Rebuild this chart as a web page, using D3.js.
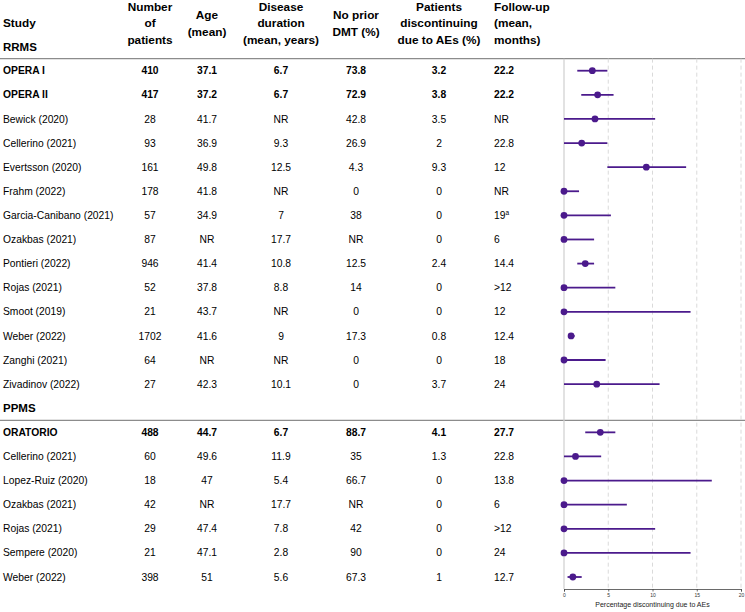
<!DOCTYPE html>
<html>
<head>
<meta charset="utf-8" />
<title>Discontinuation due to AEs</title>
<script src="https://d3js.org/d3.v7.min.js"></script>
<style>
  body { margin: 0; background: #fff; }
  svg { display: block; font-family: "Liberation Sans", Arial, sans-serif; }
</style>
</head>
<body>
<svg id="chart" width="745" height="612"></svg>
<script>
// groups and studies
const groups = ["RRMS", "PPMS"];
const studies = [
  "OPERA I", "OPERA II", "Bewick (2020)", "Cellerino (2021)", "Evertsson (2020)",
  "Frahm (2022)", "Garcia-Canibano (2021)", "Ozakbas (2021)", "Pontieri (2022)",
  "Rojas (2021)", "Smoot (2019)", "Weber (2022)", "Zanghi (2021)", "Zivadinov (2022)",
  "ORATORIO", "Cellerino (2021)", "Lopez-Ruiz (2020)", "Ozakbas (2021)",
  "Rojas (2021)", "Sempere (2020)", "Weber (2022)"
];
const studyGroup = [
  "RRMS", "RRMS", "RRMS", "RRMS", "RRMS", "RRMS", "RRMS", "RRMS", "RRMS",
  "RRMS", "RRMS", "RRMS", "RRMS", "RRMS",
  "PPMS", "PPMS", "PPMS", "PPMS", "PPMS", "PPMS", "PPMS"
];
const boldStudies = ["OPERA I", "OPERA II", "ORATORIO"];

// table columns
const nPatients = ["410", "417", "28", "93", "161", "178", "57", "87", "946", "52", "21", "1702", "64", "27",
  "488", "60", "18", "42", "29", "21", "398"];
const ageMean = ["37.1", "37.2", "41.7", "36.9", "49.8", "41.8", "34.9", "NR", "41.4", "37.8", "43.7", "41.6", "NR", "42.3",
  "44.7", "49.6", "47", "NR", "47.4", "47.1", "51"];
const diseaseDuration = ["6.7", "6.7", "NR", "9.3", "12.5", "NR", "7", "17.7", "10.8", "8.8", "NR", "9", "NR", "10.1",
  "6.7", "11.9", "5.4", "17.7", "7.8", "2.8", "5.6"];
const noPriorDMT = ["73.8", "72.9", "42.8", "26.9", "4.3", "0", "38", "NR", "12.5", "14", "0", "17.3", "0", "0",
  "88.7", "35", "66.7", "NR", "42", "90", "67.3"];
const followUp = ["22.2", "22.2", "NR", "22.8", "12", "NR", "19", "6", "14.4", ">12", "12", "12.4", "18", "24",
  "27.7", "22.8", "13.8", "6", ">12", "24", "12.7"];
const followUpNote = ["", "", "", "", "", "", "a", "", "", "", "", "", "", "",
  "", "", "", "", "", "", ""];

// forest plot: % discontinuing due to AEs with interval
const discontinuing = [3.2, 3.8, 3.5, 2, 9.3, 0, 0, 0, 2.4, 0, 0, 0.8, 0, 3.7,
  4.1, 1.3, 0, 0, 0, 0, 1];
const ciLower = [1.5, 1.95, 0, 0, 4.9, 0, 0, 0, 1.5, 0, 0, 0.5, 0, 0,
  2.4, 0, 0, 0, 0, 0, 0.4];
const ciUpper = [4.9, 5.6, 10.3, 4.9, 13.8, 1.7, 5.3, 3.4, 3.4, 5.8, 14.3, 1.2, 4.7, 10.8,
  5.8, 4.2, 16.7, 7.1, 10.3, 14.3, 2.0];
const xTicks = [0, 5, 10, 15, 20];

// build the row list: a header row for each group, then its studies
const rows = [];
groups.forEach(g => {
  rows.push({ type: "group", label: g });
  studies.forEach((s, i) => {
    if (studyGroup[i] !== g) return;
    rows.push({
      type: "study", label: s, bold: boldStudies.includes(s),
      n: nPatients[i], age: ageMean[i], dur: diseaseDuration[i], dmt: noPriorDMT[i],
      disc: discontinuing[i], fu: followUp[i], note: followUpNote[i],
      lo: ciLower[i], hi: ciUpper[i]
    });
  });
});
rows.forEach((r, i) => r.idx = i);

const svg = d3.select("#chart");
const y = d3.scaleLinear().domain([0, rows.length - 1]).range([46.6, 577]);
const x = d3.scaleLinear().domain([0, 20]).range([564, 741]);
const axisY = 589;

const cols = [
  { key: "n", x: 150, anchor: "middle", head: ["Number", "of", "patients"] },
  { key: "age", x: 207, anchor: "middle", head: ["Age", "(mean)"] },
  { key: "dur", x: 281, anchor: "middle", head: ["Disease", "duration", "(mean, years)"] },
  { key: "dmt", x: 356, anchor: "middle", head: ["No prior", "DMT (%)"] },
  { key: "disc", x: 439, anchor: "middle", head: ["Patients", "discontinuing", "due to AEs (%)"] },
  { key: "fu", x: 494, anchor: "start", head: ["Follow-up", "(mean,", "months)"] }
];

// header
const head = svg.append("g").attr("font-weight", "bold").attr("font-size", 11.8).attr("fill", "#000");
head.append("text").attr("x", 3).attr("y", 23).attr("dy", "0.35em").text("Study");
cols.forEach(c => {
  const lines = c.head;
  const top = lines.length === 3 ? 6.5 : 15;
  lines.forEach((l, j) => {
    head.append("text")
      .attr("x", c.x).attr("y", top + j * 16.5).attr("dy", "0.35em")
      .attr("text-anchor", c.anchor).text(l);
  });
});

// separator lines
const sepRows = rows.filter(r => r.type === "group").map(r => r.idx);
sepRows.forEach(i => {
  svg.append("line")
    .attr("x1", 0).attr("x2", 745)
    .attr("y1", (y(i) + y(i + 1)) / 2).attr("y2", (y(i) + y(i + 1)) / 2)
    .attr("stroke", "#8c8c8c").attr("stroke-width", 1.3);
});

// grid lines
const gridTop = (y(0) + y(1)) / 2;
svg.append("g").selectAll("line")
  .data(xTicks)
  .join("line")
  .attr("x1", d => x(d)).attr("x2", d => x(d))
  .attr("y1", gridTop).attr("y2", axisY)
  .attr("stroke", d => d === 0 ? "#cfcfcf" : "#d6d6d6")
  .attr("stroke-width", d => d === 0 ? 1.2 : 0.9)
  .attr("stroke-dasharray", d => d === 0 ? null : "4,3");

// table body
const body = svg.append("g").attr("fill", "#000");
rows.forEach(r => {
  const g = body.append("g")
    .attr("font-weight", r.type === "group" || r.bold ? "bold" : "normal")
    .attr("font-size", r.type === "group" ? 11.5 : 10.3);
  g.append("text").attr("x", 3).attr("y", y(r.idx)).attr("dy", "0.35em").text(r.label);
  if (r.type !== "study") return;
  cols.forEach(c => {
    const t = g.append("text")
      .attr("x", c.x).attr("y", y(r.idx)).attr("dy", "0.35em")
      .attr("text-anchor", c.anchor).text(r[c.key]);
    if (c.key === "fu" && r.note) {
      t.append("tspan").attr("font-size", 6.5).attr("dy", "-0.6em").text(r.note);
    }
  });
});

// forest plot
const studyRows = rows.filter(r => r.type === "study");
const purple = "#4b1a8c";
svg.append("g").selectAll("line")
  .data(studyRows)
  .join("line")
  .attr("x1", d => x(d.lo)).attr("x2", d => x(d.hi))
  .attr("y1", d => y(d.idx)).attr("y2", d => y(d.idx))
  .attr("stroke", purple).attr("stroke-width", 1.8);
svg.append("g").selectAll("circle")
  .data(studyRows)
  .join("circle")
  .attr("cx", d => x(d.disc)).attr("cy", d => y(d.idx))
  .attr("r", 3.4).attr("fill", purple);

// axis
const axis = svg.append("g")
  .attr("transform", `translate(0,${axisY})`)
  .call(d3.axisBottom(x).tickValues(xTicks).tickSize(2.5).tickPadding(2));
axis.select(".domain").attr("stroke", "#444").attr("stroke-width", 0.8);
axis.selectAll(".tick line").attr("stroke", "#444").attr("stroke-width", 0.8);
axis.selectAll(".tick text").attr("font-size", 5).attr("fill", "#333")
  .attr("font-family", "'Liberation Sans', Arial, sans-serif");

svg.append("text")
  .attr("x", (x(0) + x(20)) / 2).attr("y", 607)
  .attr("text-anchor", "middle").attr("font-size", 7).attr("fill", "#222")
  .text("Percentage discontinuing due to AEs");
</script>
</body>
</html>
